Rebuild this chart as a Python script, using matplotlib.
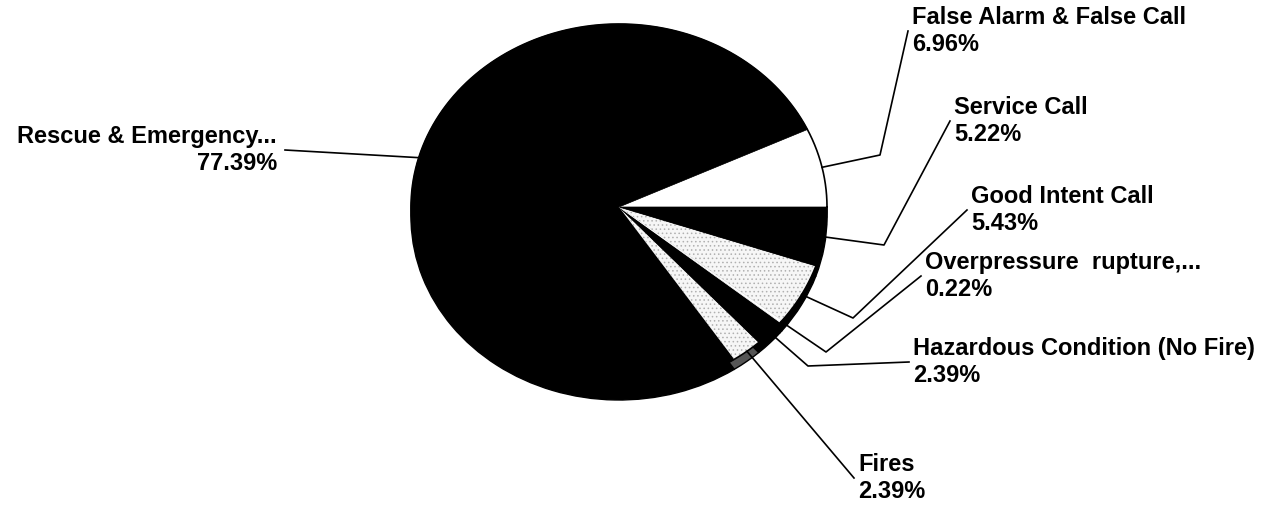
import matplotlib.pyplot as plt
import numpy as np

plt.rcParams['font.family'] = ['Liberation Sans', 'DejaVu Sans']
plt.rcParams['hatch.linewidth'] = 0.6

# data, counter-clockwise from 3 o'clock
labels = ['False Alarm & False Call', 'Rescue & Emergency...', 'Fires',
          'Hazardous Condition (No Fire)', 'Overpressure  rupture,...',
          'Good Intent Call', 'Service Call']
shares = [6.96, 77.39, 2.39, 2.39, 0.22, 5.43, 5.22]
fills = ['white', 'black', 'dots', 'black', 'white', 'dots', 'black']

# layout in pixels (from top-left)
W, H = 1265, 508
cx, cy, rx, ry, depth = 619, 207, 208, 183, 10
# label anchor (x, middle y), text side, knee point or None
lab_pos = [(912, 31), (277, 150), (858, 478), (913, 362), (925, 276), (971, 210), (954, 121)]
lab_side = ['left', 'right', 'left', 'left', 'left', 'left', 'left']
knees = [(880, 155), None, None, (808, 366), (826, 352), (853, 318), (884, 245)]


def d(px, py):
    # pixel -> data coords of the unit pie
    return (px - cx) / rx, (cy - py) / ry


fig = plt.figure(figsize=(W / 100, H / 100), dpi=100)
ax = fig.add_axes([0, 0, 1, 1])

# side of the pie (fake 3D depth)
side_cols = ['#555555' if f == 'dots' and i == 2 else 'black' for i, f in enumerate(fills)]
ax.pie(shares, colors=side_cols, startangle=0, counterclock=True,
       center=(0, -depth / ry), radius=1,
       wedgeprops=dict(edgecolor='black', linewidth=1))

face = ['#f6f6f6' if f == 'dots' else f for f in fills]
wedges, _ = ax.pie(shares, colors=face, startangle=0, counterclock=True,
                   center=(0, 0), radius=1,
                   wedgeprops=dict(linewidth=0))
for w, f in zip(wedges, fills):
    if f == 'dots':
        w.set_hatch('....')
        w.set_edgecolor('#b0b0b0')
        w.set_linewidth(0)
    else:
        w.set_edgecolor(f)
        w.set_linewidth(0.5)

# outline of top face
t = np.linspace(0, 2 * np.pi, 400)
ax.plot(np.cos(t), np.sin(t), color='black', lw=1.2)

for i, w in enumerate(wedges):
    mid = np.deg2rad(0.5 * (w.theta1 + w.theta2))
    pts = [(np.cos(mid), np.sin(mid))]
    if knees[i] is not None:
        pts.append(d(*knees[i]))
    lx, ly = lab_pos[i]
    if lab_side[i] == 'left':
        pts.append(d(lx - 4, ly))
    else:
        pts.append(d(lx + 8, ly))
    xs, ys = zip(*pts)
    ax.plot(xs, ys, color='black', lw=1.2)
    ax.text(*d(lx, ly), f'{labels[i]}\n{shares[i]:.2f}%', ha=lab_side[i], va='center',
            fontsize=17, fontweight='bold', linespacing=1.17,
            multialignment=lab_side[i])

ax.set_aspect('auto')
ax.set_xlim(-cx / rx, (W - cx) / rx)
ax.set_ylim((cy - H) / ry, cy / ry)
ax.axis('off')

fig.savefig('out.png', dpi=100, facecolor='white')
